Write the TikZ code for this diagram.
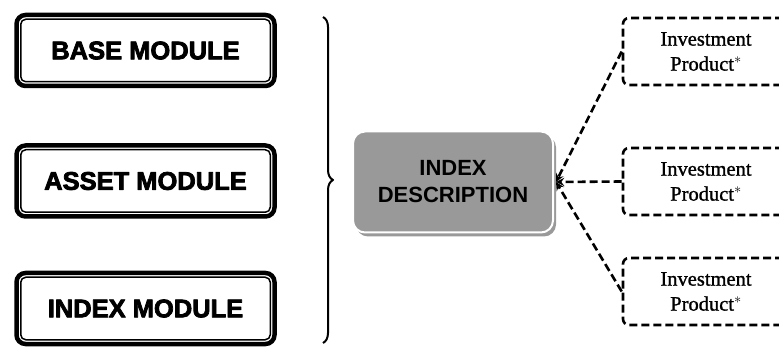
\documentclass[tikz,border=0pt]{standalone}
\usepackage{fontspec}
\setmainfont{Liberation Serif}
\newfontfamily\prodfont[FakeBold=1.2]{Liberation Serif}
\newfontfamily\modfont[FakeBold=3]{Liberation Sans Bold}
\newfontfamily\descfont{Liberation Sans}
\usetikzlibrary{decorations.pathreplacing,shadows}
\definecolor{descgray}{gray}{0.6}
\tikzset{
  module/.style={draw, line width=4.5pt, rounded corners=9pt, minimum width=258pt,
    minimum height=71pt, font=\modfont\fontsize{25.5}{30}\selectfont},
  inner/.style={line width=1.5pt, rounded corners=5pt},
  desc/.style={fill=descgray, draw=white, line width=2pt, rounded corners=12pt,
    minimum width=200pt, minimum height=101pt, align=center,
    font=\descfont\bfseries\fontsize{22}{27}\selectfont,
    drop shadow={shadow xshift=3pt, shadow yshift=-4pt, fill=gray!80, opacity=1}},
  product/.style={draw, dash pattern=on 8pt off 4pt, line width=2.6pt,
    rounded corners=6pt, minimum width=166pt, minimum height=67pt, align=center,
    font=\prodfont\fontsize{20.5}{25}\selectfont},
  link/.style={dash pattern=on 8pt off 4pt, line width=2.6pt, -stealth}
}
\begin{document}
\begin{tikzpicture}[x=1pt, y=-1pt, line join=round]
\def\W{779} \def\H{347}
\useasboundingbox (0,0) rectangle (\W,\H);
\clip (0,0) rectangle (\W,\H);
% left modules
\node[module] (base)  at (145.5,50.5)  {BASE MODULE};
\node[module] (asset) at (145.5,181)   {ASSET MODULE};
\node[module] (index) at (145.5,308.5) {INDEX MODULE};
\foreach \n in {base,asset,index}
  \draw[inner] ([xshift=6.5pt,yshift=-6.5pt]\n.north west) rectangle ([xshift=-6.5pt,yshift=6.5pt]\n.south east);
% brace
\coordinate (btop) at (323,17);
\coordinate (bbot) at (323,343);
\draw[line width=2pt, decorate, decoration={brace, amplitude=10pt}] (btop) -- (bbot);
% centre
\node[desc] (descr) at (453,182) {INDEX\\DESCRIPTION};
% products
\node[product] (prodA) at (706,51.5)  {Investment\\Product$^*$};
\node[product] (prodB) at (706,181.5) {Investment\\Product$^*$};
\node[product] (prodC) at (706,291.5) {Investment\\Product$^*$};
\foreach \p in {prodA,prodB,prodC}
  \draw[link] (\p.west) -- ([xshift=2pt]descr.east);
\end{tikzpicture}
\end{document}
